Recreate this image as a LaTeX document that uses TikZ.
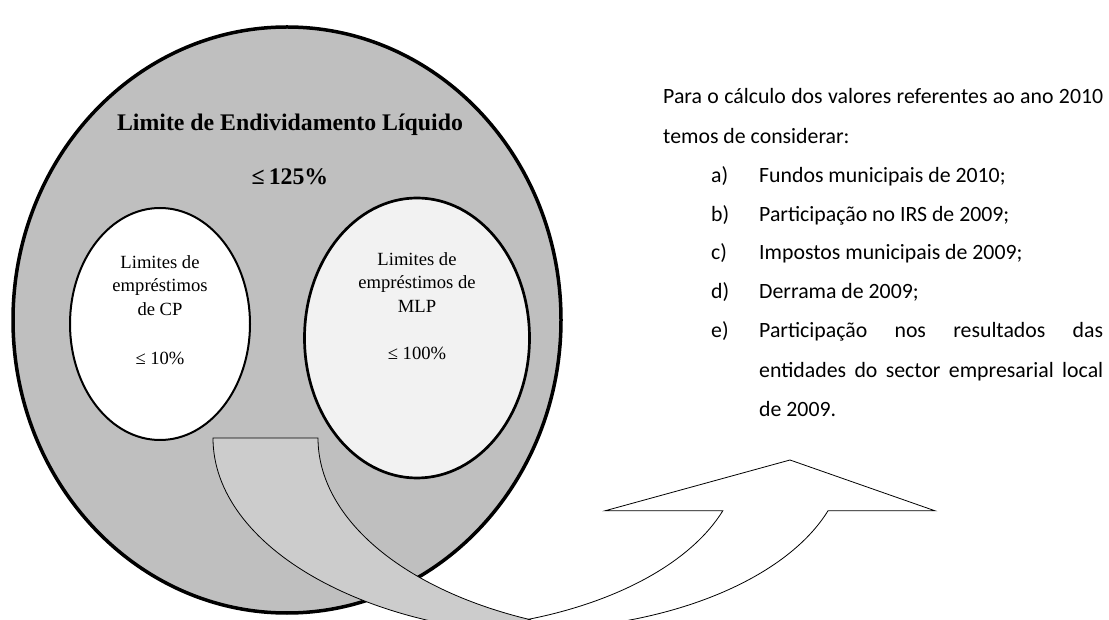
\documentclass[tikz,border=0pt]{standalone}
\usepackage{fontspec}
\setmainfont{Liberation Serif}
\newfontfamily\calibri{Carlito}
\usepackage{tikz}
\usetikzlibrary{shapes}
\definecolor{cinzaescuro}{gray}{0.75}
\definecolor{cinzaseta}{gray}{0.8}
\definecolor{cinzaclaro}{gray}{0.95}
\tikzstyle{elipse}=[ellipse,draw,inner sep=0pt]
\tikzstyle{titulo}=[font=\fontsize{23.8}{28}\selectfont\bfseries]
\tikzstyle{limite}=[align=center,font=\fontsize{18.6}{23.5}\selectfont]
\tikzstyle{linha}=[anchor=west,inner sep=0pt,text height=15pt,text depth=4pt,
        font=\calibri\fontsize{21.8}{26}\selectfont]
\tikzstyle{seta}=[draw=black,line width=0.8pt]

\begin{document}
\begin{tikzpicture}[x=1pt,y=1pt]
\useasboundingbox (0,0) rectangle (1109,619);
\clip (0,0) rectangle (1109,619);
\node[elipse,fill=cinzaescuro,line width=3.5pt,minimum width=548pt,minimum height=586pt] (total) at (287,299) {};
\node[elipse,fill=white,line width=2pt,minimum width=180pt,minimum height=232pt] (cp) at (160,295) {};
\node[elipse,fill=cinzaclaro,line width=2.7pt,minimum width=225pt,minimum height=280pt] (mlp) at (417,281) {};
\node[titulo] (tit) at (290,494) {Limite de Endividamento Líquido};
\node[titulo] (lim) at (290,442) {≤\,125\%};
\node[limite] (tcp) at (160,309) {Limites de\\empréstimos\\de CP\\[25.5pt]≤ 10\%};
\node[limite] (tmlp) at (417,313) {Limites de\\empréstimos de\\MLP\\[24pt]≤ 100\%};
%seta curva: parte de tras
\filldraw[seta,fill=cinzaseta] (213,181) -- (318,181)
  arc[start angle=180,end angle=246.95,x radius=346,y radius=197] -- ++(0,-40) -- (559,-41) -- (559,-16)
  arc[start angle=270,end angle=180,x radius=346,y radius=197] -- cycle;
%seta curva: parte da frente
\filldraw[seta,fill=white] (528.6,-0.27)
  arc[start angle=289.9,end angle=341.3,x radius=320,y radius=175] -- (605,108.2) -- (790,159)
  -- (935,108.2) -- (828,108.2)
  arc[start angle=341.3,end angle=275,x radius=320,y radius=175] -- cycle;
%texto da direita
\node[linha] (l1) at (663,521) {\makebox[440pt][s]{Para o cálculo dos valores referentes ao ano 2010}};
\node[linha] (l2) at (663,481) {temos de considerar:};
\node[linha] (a) at (711,442) {a)};
\node[linha] (ta) at (759,442) {Fundos municipais de 2010;};
\node[linha] (b) at (711,403) {b)};
\node[linha] (tb) at (759,403) {Participação no IRS de 2009;};
\node[linha] (c) at (711,365) {c)};
\node[linha] (tc) at (759,365) {Impostos municipais de 2009;};
\node[linha] (d) at (711,326) {d)};
\node[linha] (td) at (759,326) {Derrama de 2009;};
\node[linha] (e) at (711,287) {e)};
\node[linha] (te) at (759,287) {\makebox[344pt][s]{Participação nos resultados das}};
\node[linha] (te2) at (759,247) {\makebox[344pt][s]{entidades do sector empresarial local}};
\node[linha] (te3) at (759,208) {de 2009.};
\end{tikzpicture}
\end{document}
